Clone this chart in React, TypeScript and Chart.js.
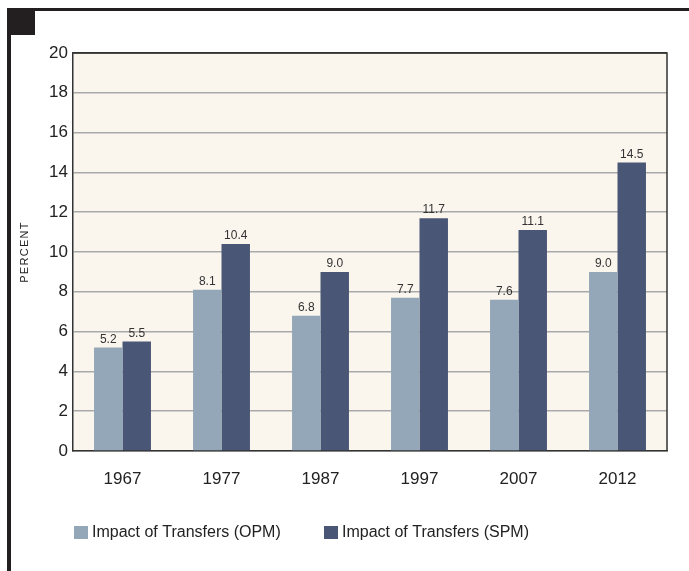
import React, { useEffect, useRef } from "react";
import { Chart, registerables } from "chart.js";

Chart.register(...registerables);

const categories = ["1967", "1977", "1987", "1997", "2007", "2012"];
const opmValues = [5.2, 8.1, 6.8, 7.7, 7.6, 9.0];
const spmValues = [5.5, 10.4, 9.0, 11.7, 11.1, 14.5];
const seriesLabels = ["Impact of Transfers (OPM)", "Impact of Transfers (SPM)"];
const seriesColors = ["#94a7b8", "#4a5675"];
const yAxisTitle = "PERCENT";

const FONT = "'Liberation Sans', Arial, Helvetica, sans-serif";
const NARROW = "'Liberation Sans Narrow', 'Liberation Sans', Arial, sans-serif";

export default function App() {
  const ref = useRef<HTMLCanvasElement | null>(null);

  useEffect(() => {
    document.body.style.margin = "0";
    const canvas = ref.current;
    if (!canvas) return;

    const framePlugin = {
      id: "frame",
      beforeDraw(chart: any) {
        const { ctx, chartArea } = chart;
        ctx.save();
        ctx.fillStyle = "#faf6ee";
        ctx.fillRect(chartArea.left, chartArea.top, chartArea.right - chartArea.left, chartArea.bottom - chartArea.top);
        ctx.fillStyle = "#231f20";
        ctx.fillRect(7, 8, 682, 3);
        ctx.fillRect(7, 8, 4, 563);
        ctx.fillRect(7, 8, 28, 27);
        ctx.restore();
      },
      afterDraw(chart: any) {
        const { ctx, chartArea } = chart;
        ctx.save();
        ctx.strokeStyle = "#333333";
        ctx.lineWidth = 1.5;
        ctx.beginPath();
        ctx.moveTo(chartArea.left, chartArea.top);
        ctx.lineTo(chartArea.right, chartArea.top);
        ctx.lineTo(chartArea.right, chartArea.bottom);
        ctx.stroke();

        // y axis title
        ctx.save();
        ctx.translate(25, (chartArea.top + chartArea.bottom) / 2);
        ctx.rotate(-Math.PI / 2);
        ctx.font = `11px ${FONT}`;
        (ctx as any).letterSpacing = "1.3px";
        ctx.fillStyle = "#222";
        ctx.textAlign = "center";
        ctx.textBaseline = "middle";
        ctx.fillText(yAxisTitle, 0, 0);
        ctx.restore();

        // legend
        ctx.font = `16px ${FONT}`;
        ctx.textBaseline = "middle";
        ctx.textAlign = "left";
        const xs = [74, 324];
        chart.data.datasets.forEach((ds: any, i: number) => {
          ctx.fillStyle = ds.backgroundColor;
          ctx.fillRect(xs[i], 526, 14, 13);
          ctx.fillStyle = "#222";
          ctx.fillText(ds.label, xs[i] + 18, 533);
        });
        ctx.restore();
      },
      afterDatasetsDraw(chart: any) {
        const { ctx } = chart;
        ctx.save();
        ctx.font = `12px ${NARROW}`;
        ctx.fillStyle = "#333";
        ctx.textAlign = "center";
        ctx.textBaseline = "bottom";
        chart.data.datasets.forEach((ds: any, di: number) => {
          const meta = chart.getDatasetMeta(di);
          meta.data.forEach((bar: any, i: number) => {
            ctx.fillText(Number(ds.data[i]).toFixed(1), bar.x, bar.y - 2);
          });
        });
        ctx.restore();
      },
    };

    const chart = new Chart(canvas, {
      type: "bar",
      data: {
        labels: categories,
        datasets: [
          { label: seriesLabels[0], data: opmValues, backgroundColor: seriesColors[0] },
          { label: seriesLabels[1], data: spmValues, backgroundColor: seriesColors[1] },
        ],
      },
      options: {
        responsive: false,
        animation: false,
        devicePixelRatio: 1,
        layout: { padding: { left: 0, top: 53, right: 22, bottom: 80 } },
        datasets: { bar: { barPercentage: 1, categoryPercentage: 0.575 } } as any,
        plugins: { legend: { display: false }, tooltip: { enabled: false } },
        scales: {
          x: {
            grid: { display: false, drawTicks: false },
            border: { color: "#333", width: 1.5 },
            ticks: { font: { family: FONT, size: 17 }, color: "#222", padding: 18 },
            afterFit(scale: any) {
              scale.height = 40;
            },
          },
          y: {
            min: 0,
            max: 20,
            grid: {
              drawTicks: false,
              color: (c: any) => (c.tick && c.tick.value === 20 ? "#333" : "#a9a9a9"),
              lineWidth: 1.5,
            },
            border: { color: "#333", width: 1.5 },
            ticks: { stepSize: 2, font: { family: FONT, size: 17 }, color: "#222", padding: 5 },
            title: { display: false },
            afterFit(scale: any) {
              scale.width = 73;
            },
          },
        },
      },
      plugins: [framePlugin],
    });

    return () => chart.destroy();
  }, []);

  return (
    <div style={{ width: 689, height: 571 }}>
      <canvas ref={ref} width={689} height={571} style={{ display: "block" }} />
    </div>
  );
}
